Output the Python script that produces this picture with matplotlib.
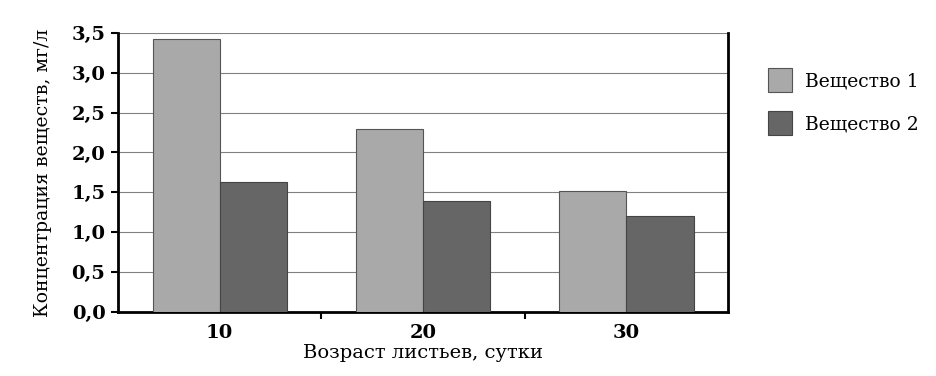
import numpy as np
import matplotlib
matplotlib.use("Agg")
import matplotlib.pyplot as plt
from matplotlib.ticker import FixedLocator, FuncFormatter

plt.rcParams['font.family'] = ['DejaVu Serif']

ages = ["10", "20", "30"]
series_names = ["Вещество 1", "Вещество 2"]
subst1 = [3.42, 2.30, 1.52]
subst2 = [1.63, 1.39, 1.20]
colors = ["#a9a9a9", "#666666"]

fig = plt.figure(figsize=(9.36, 3.76), dpi=100)
ax = fig.add_axes([0.126, 0.171, 0.652, 0.741])

x = np.arange(len(ages))
w = 0.33
ax.bar(x - w / 2, subst1, w, color=colors[0], edgecolor="#555555", linewidth=0.8,
       label=series_names[0], zorder=3)
ax.bar(x + w / 2, subst2, w, color=colors[1], edgecolor="#444444", linewidth=0.8,
       label=series_names[1], zorder=3)

ax.set_xlim(-0.5, len(ages) - 0.5)
ax.set_ylim(0, 3.5)
ax.set_yticks(np.arange(0, 3.51, 0.5))
ax.yaxis.set_major_formatter(FuncFormatter(lambda v, p: f"{v:.1f}".replace(".", ",")))
ax.yaxis.grid(True, color="#808080", linewidth=0.8, zorder=0)

ax.set_xticks(x)
ax.set_xticklabels(ages)
ax.xaxis.set_minor_locator(FixedLocator([0.5, 1.5]))
ax.tick_params(axis="x", which="major", length=0, pad=9, labelsize=14)
ax.tick_params(axis="x", which="minor", length=5, width=1.5, direction="out")
ax.tick_params(axis="y", length=5, width=1.5, labelsize=14, pad=4)
for lab in ax.get_yticklabels():
    lab.set_fontweight("bold")
for lab in ax.get_xticklabels():
    lab.set_fontweight("semibold")

for s in ["left", "bottom", "right"]:
    ax.spines[s].set_linewidth(2.0)
ax.spines["top"].set_visible(False)

ax.set_xlabel("Возраст листьев, сутки", fontsize=14, labelpad=1)
ax.set_ylabel("Концентрация веществ, мг/л", fontsize=13.6, labelpad=14)

ax.legend(loc="upper left", bbox_to_anchor=(1.037, 0.935), frameon=False,
          fontsize=13.5, handlelength=1.3, handleheight=1.6, labelspacing=1.0,
          handletextpad=0.7)

fig.savefig("out.png", dpi=100)
